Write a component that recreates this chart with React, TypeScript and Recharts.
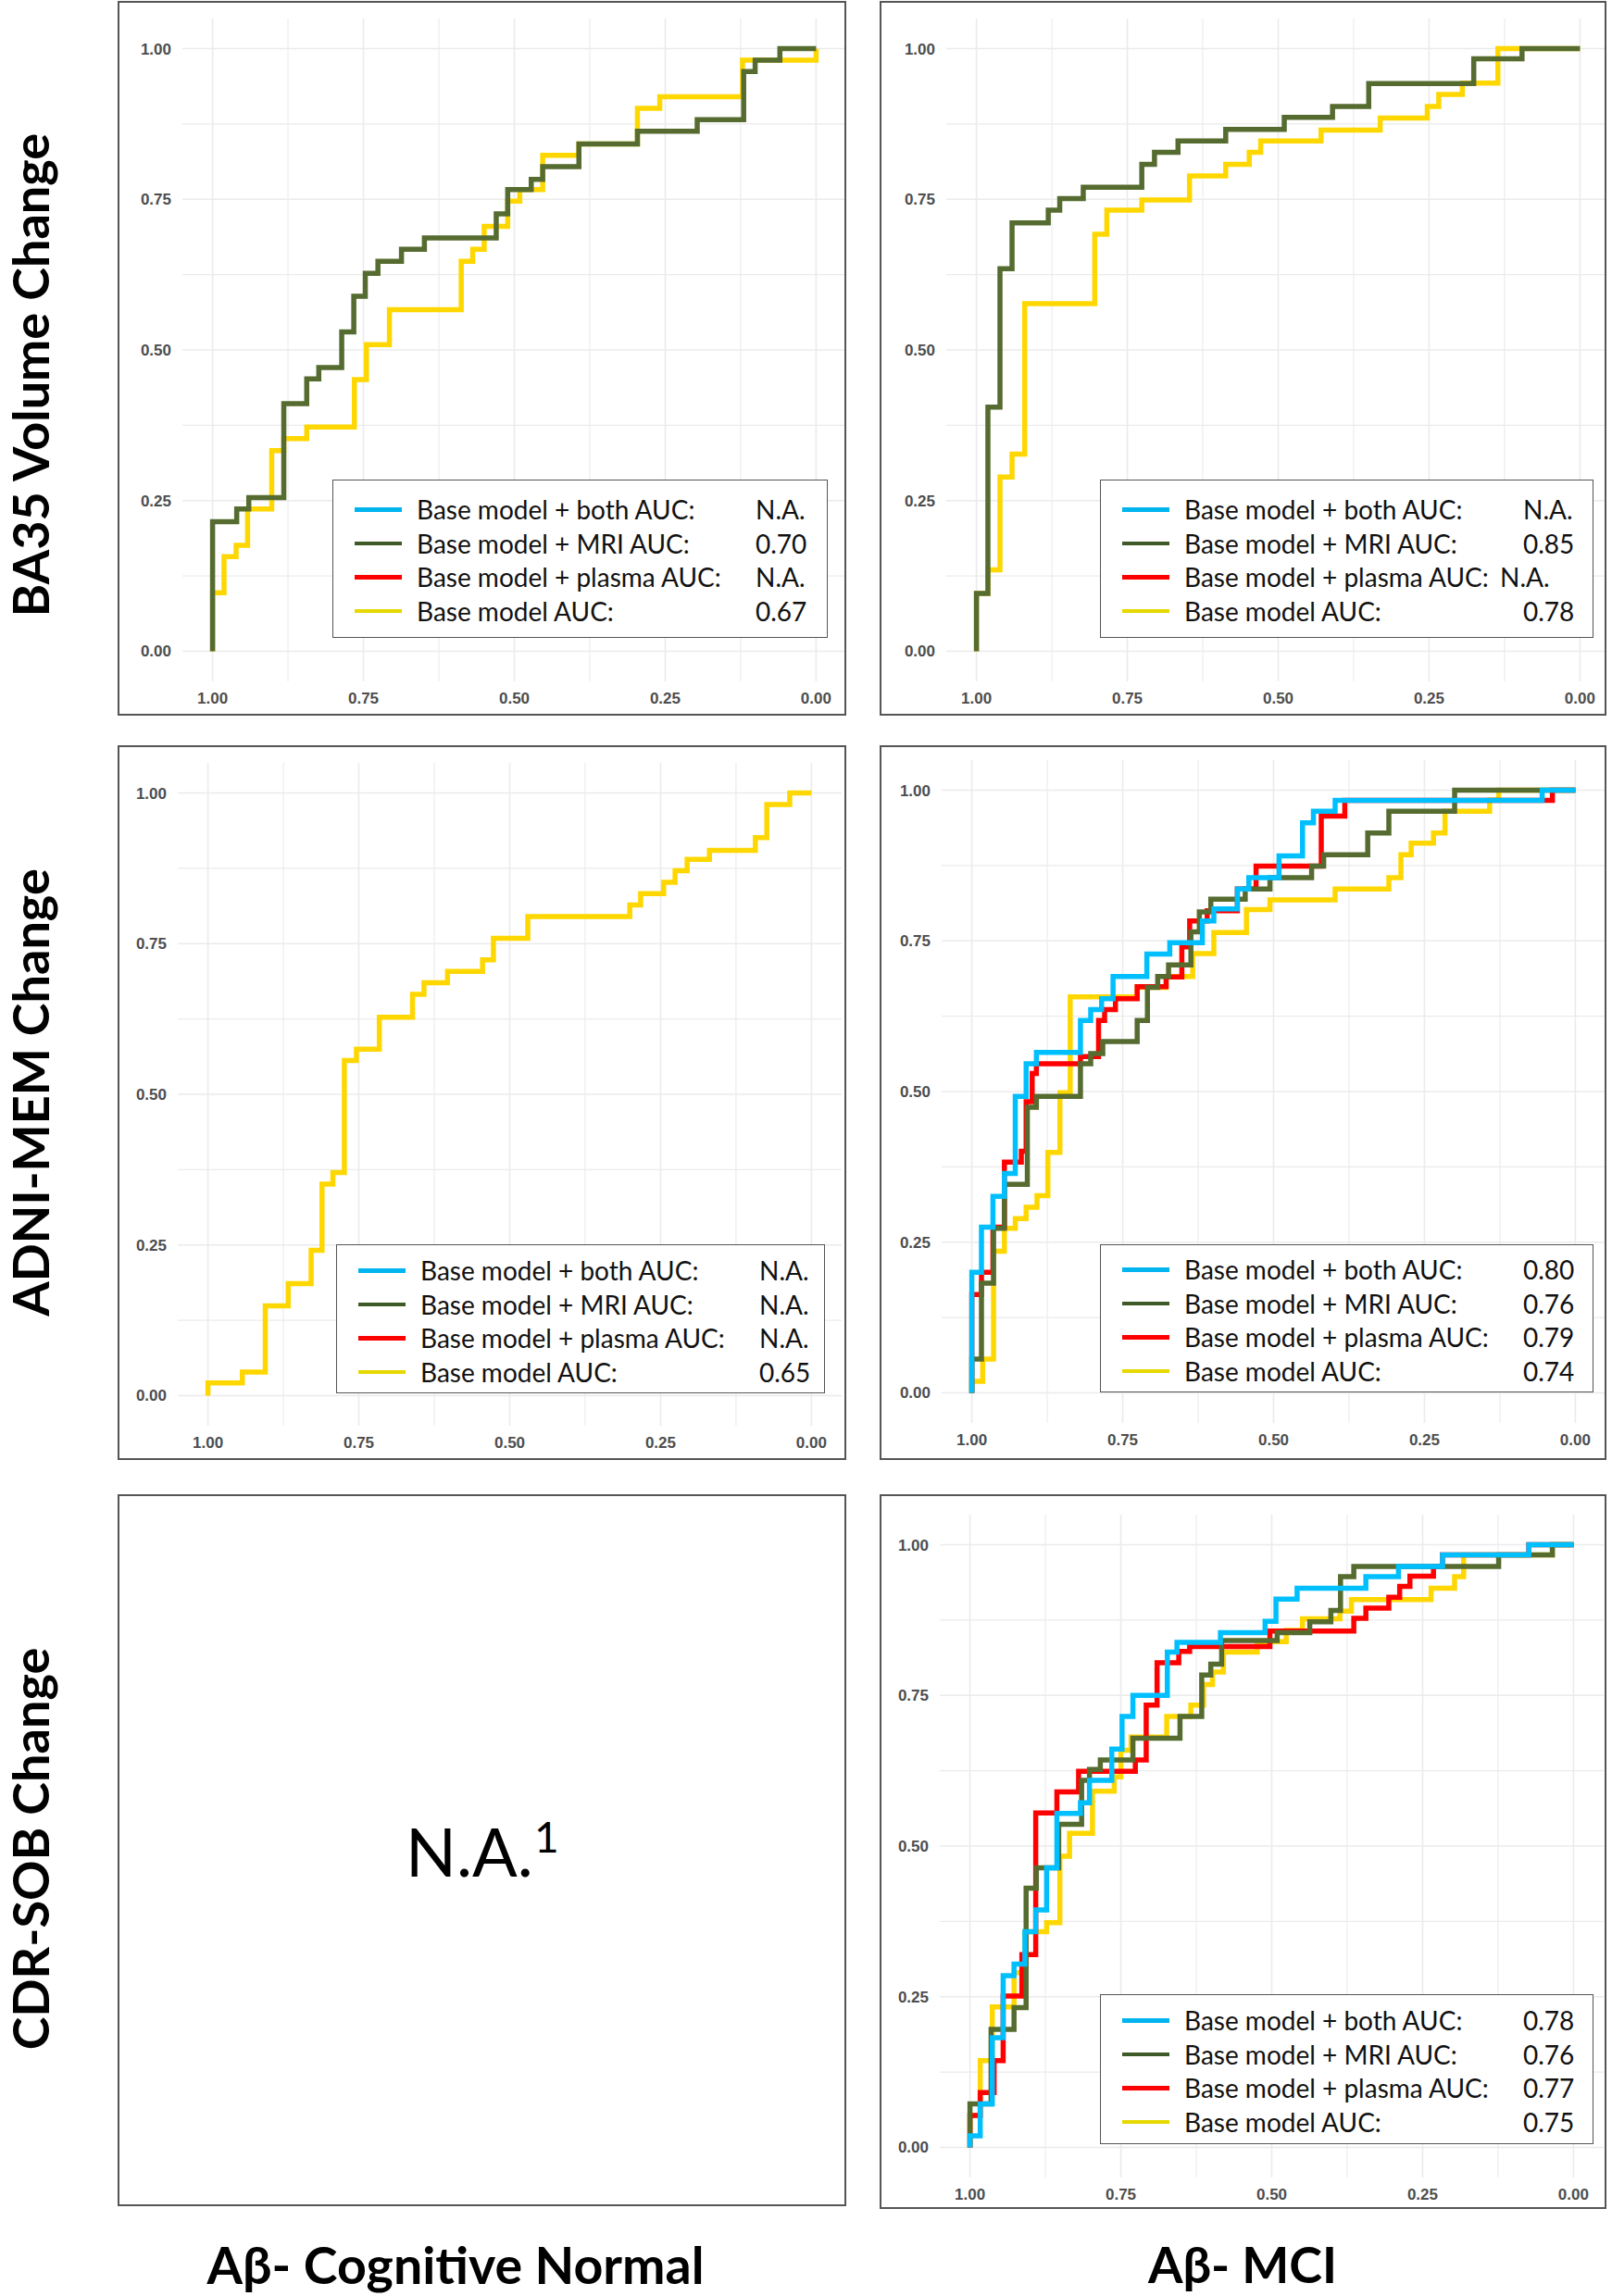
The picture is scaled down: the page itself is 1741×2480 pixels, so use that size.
import React from 'react';
import { LineChart, Line, XAxis, YAxis, ReferenceLine } from 'recharts';

type Pt = [number, number];

// ROC steps as [specificity, sensitivity] (sensitivity after each rise)
const ba35CnMri: Pt[] = [[1, 0], [1, 0.215], [0.96, 0.236], [0.94, 0.255], [0.882, 0.411], [0.844, 0.452], [0.824, 0.471], [0.786, 0.53], [0.766, 0.589], [0.747, 0.627], [0.726, 0.647], [0.687, 0.667], [0.649, 0.686], [0.53, 0.726], [0.511, 0.766], [0.472, 0.783], [0.453, 0.804], [0.393, 0.842], [0.296, 0.863], [0.197, 0.882], [0.12, 0.962], [0.101, 0.981], [0.06, 1], [0, 1]];
const ba35CnBase: Pt[] = [[1, 0], [1, 0.097], [0.981, 0.157], [0.961, 0.176], [0.942, 0.236], [0.902, 0.333], [0.882, 0.353], [0.844, 0.372], [0.765, 0.451], [0.745, 0.509], [0.707, 0.567], [0.588, 0.647], [0.569, 0.667], [0.55, 0.705], [0.511, 0.747], [0.491, 0.766], [0.453, 0.823], [0.393, 0.842], [0.296, 0.901], [0.259, 0.92], [0.122, 0.981], [0, 0.981], [0, 1]];

const ba35MciMri: Pt[] = [[1, 0], [1, 0.096], [0.981, 0.405], [0.961, 0.635], [0.941, 0.711], [0.881, 0.732], [0.862, 0.751], [0.823, 0.77], [0.726, 0.808], [0.705, 0.828], [0.666, 0.847], [0.587, 0.866], [0.49, 0.886], [0.41, 0.904], [0.35, 0.942], [0.176, 0.983], [0.096, 1], [0, 1]];
const ba35MciBase: Pt[] = [[1, 0], [1, 0.096], [0.981, 0.135], [0.961, 0.289], [0.941, 0.327], [0.92, 0.577], [0.804, 0.692], [0.784, 0.732], [0.726, 0.749], [0.647, 0.789], [0.587, 0.808], [0.548, 0.828], [0.529, 0.847], [0.429, 0.865], [0.331, 0.885], [0.253, 0.904], [0.234, 0.924], [0.195, 0.943], [0.136, 1], [0, 1]];

const memCnBase: Pt[] = [[1, 0], [1, 0.021], [0.943, 0.039], [0.905, 0.149], [0.867, 0.186], [0.829, 0.241], [0.811, 0.351], [0.793, 0.37], [0.774, 0.556], [0.754, 0.575], [0.716, 0.628], [0.661, 0.666], [0.642, 0.685], [0.603, 0.704], [0.545, 0.723], [0.527, 0.759], [0.47, 0.795], [0.301, 0.814], [0.283, 0.833], [0.245, 0.852], [0.226, 0.871], [0.206, 0.89], [0.169, 0.905], [0.093, 0.926], [0.074, 0.981], [0.036, 1], [0, 1]];

const memMciBoth: Pt[] = [[1, 0], [1, 0.2], [0.984, 0.275], [0.965, 0.326], [0.946, 0.364], [0.928, 0.492], [0.91, 0.546], [0.893, 0.565], [0.82, 0.618], [0.803, 0.636], [0.785, 0.654], [0.766, 0.691], [0.71, 0.728], [0.672, 0.747], [0.618, 0.783], [0.599, 0.803], [0.56, 0.836], [0.541, 0.855], [0.491, 0.891], [0.452, 0.946], [0.434, 0.965], [0.398, 0.983], [0.055, 1], [0, 1]];
const memMciMri: Pt[] = [[1, 0], [1, 0.056], [0.984, 0.182], [0.964, 0.273], [0.946, 0.346], [0.908, 0.474], [0.893, 0.492], [0.82, 0.546], [0.803, 0.563], [0.783, 0.583], [0.726, 0.618], [0.709, 0.673], [0.692, 0.691], [0.674, 0.71], [0.637, 0.765], [0.623, 0.798], [0.604, 0.819], [0.547, 0.836], [0.506, 0.855], [0.437, 0.874], [0.417, 0.893], [0.344, 0.929], [0.309, 0.965], [0.2, 1], [0, 1]];
const memMciPlasma: Pt[] = [[1, 0], [1, 0.163], [0.984, 0.2], [0.965, 0.275], [0.946, 0.383], [0.918, 0.401], [0.91, 0.483], [0.9, 0.53], [0.893, 0.546], [0.82, 0.558], [0.79, 0.618], [0.78, 0.636], [0.762, 0.654], [0.726, 0.674], [0.678, 0.69], [0.652, 0.74], [0.639, 0.783], [0.61, 0.8], [0.56, 0.836], [0.529, 0.874], [0.421, 0.957], [0.382, 0.983], [0.038, 1], [0, 1]];
const memMciBase: Pt[] = [[1, 0], [1, 0.019], [0.982, 0.056], [0.964, 0.235], [0.946, 0.273], [0.928, 0.289], [0.91, 0.308], [0.892, 0.327], [0.874, 0.399], [0.854, 0.498], [0.837, 0.657], [0.726, 0.673], [0.678, 0.691], [0.634, 0.729], [0.599, 0.764], [0.545, 0.802], [0.506, 0.818], [0.398, 0.836], [0.309, 0.855], [0.289, 0.893], [0.272, 0.912], [0.235, 0.929], [0.216, 0.965], [0.142, 0.984], [0.127, 1], [0, 1]];

const cdrMciBoth: Pt[] = [[1, 0], [1, 0.019], [0.983, 0.072], [0.963, 0.182], [0.945, 0.285], [0.927, 0.304], [0.909, 0.358], [0.891, 0.394], [0.873, 0.464], [0.856, 0.554], [0.817, 0.572], [0.802, 0.609], [0.765, 0.661], [0.748, 0.715], [0.73, 0.75], [0.673, 0.822], [0.657, 0.838], [0.585, 0.854], [0.511, 0.873], [0.493, 0.91], [0.458, 0.928], [0.344, 0.947], [0.29, 0.964], [0.217, 0.983], [0.074, 1], [0, 1]];
const cdrMciMri: Pt[] = [[1, 0], [1, 0.072], [0.965, 0.196], [0.927, 0.232], [0.907, 0.43], [0.89, 0.464], [0.853, 0.536], [0.815, 0.609], [0.802, 0.627], [0.784, 0.643], [0.73, 0.679], [0.652, 0.715], [0.616, 0.784], [0.601, 0.802], [0.583, 0.841], [0.491, 0.854], [0.437, 0.872], [0.402, 0.891], [0.386, 0.947], [0.364, 0.964], [0.124, 0.983], [0.035, 1], [0, 1]];
const cdrMciPlasma: Pt[] = [[1, 0], [1, 0.053], [0.983, 0.091], [0.96, 0.144], [0.945, 0.251], [0.914, 0.32], [0.891, 0.555], [0.856, 0.59], [0.82, 0.624], [0.726, 0.643], [0.708, 0.734], [0.69, 0.804], [0.654, 0.823], [0.636, 0.831], [0.503, 0.857], [0.364, 0.878], [0.344, 0.895], [0.306, 0.913], [0.288, 0.931], [0.271, 0.948], [0.232, 0.964], [0.217, 0.983], [0.074, 1], [0, 1]];
const cdrMciBase: Pt[] = [[1, 0], [1, 0.053], [0.983, 0.144], [0.963, 0.233], [0.927, 0.29], [0.909, 0.358], [0.873, 0.373], [0.851, 0.483], [0.835, 0.521], [0.797, 0.591], [0.761, 0.615], [0.75, 0.659], [0.733, 0.681], [0.674, 0.715], [0.634, 0.734], [0.613, 0.768], [0.598, 0.789], [0.58, 0.822], [0.524, 0.839], [0.476, 0.858], [0.449, 0.877], [0.387, 0.89], [0.368, 0.909], [0.236, 0.928], [0.197, 0.947], [0.182, 0.983], [0.035, 1], [0, 1]];

// legend rows: both, MRI, plasma, base
const seriesNames = ['Base model + both AUC:', 'Base model + MRI AUC:', 'Base model + plasma AUC:', 'Base model AUC:'];
const ba35CnAuc = ['N.A.', '0.70', 'N.A.', '0.67'];
const ba35MciAuc = ['N.A.', '0.85', 'N.A.', '0.78'];
const memCnAuc = ['N.A.', 'N.A.', 'N.A.', '0.65'];
const memMciAuc = ['0.80', '0.76', '0.79', '0.74'];
const cdrMciAuc = ['0.78', '0.76', '0.77', '0.75'];

const axisTicks = [0, 0.25, 0.5, 0.75, 1];
const gridValues = [0, 0.125, 0.25, 0.375, 0.5, 0.625, 0.75, 0.875, 1];

const rowLabels = ['BA35 Volume Change', 'ADNI-MEM Change', 'CDR-SOB Change'];
const colLabels = ['Aβ- Cognitive Normal', 'Aβ- MCI'];

const lineColors = ['#00BFFF', '#556B2F', '#FF0000', '#FFD700'];
const legendColors = ['#00B4F0', '#3E5A26', '#FF0000', '#E6D800'];

const PLOT_W = 717;
const PLOT_H = 716;

const toRows = (pts: Pt[]) => pts.map(([spec, sens]) => ({ spec, sens }));
const fmt = (v: number) => v.toFixed(2);

const tickStyle = { fill: '#4D4D4D', fontSize: 17, fontWeight: 700, fontFamily: '"Liberation Sans", Arial, sans-serif' };

interface LegendBox {
  left: number;
  top: number;
  width: number;
  height: number;
  firstRow: number;
  tightPlasma?: boolean;
}

interface PanelProps {
  left: number;
  top: number;
  width: number;
  height: number;
  padLeft: number;
  padTop: number;
  curves: (Pt[] | null)[];
  auc: string[];
  legend: LegendBox;
}

function RocPanel({ left, top, width, height, padLeft, padTop, curves, auc, legend }: PanelProps) {
  const drawOrder = [3, 2, 1, 0];
  return (
    <div style={{ position: 'absolute', left, top, width, height, overflow: 'hidden', background: '#fff' }}>
      <LineChart
        width={padLeft + PLOT_W + 10}
        height={padTop + PLOT_H + 40}
        margin={{ top: padTop, right: 10, bottom: 0, left: 0 }}
      >
        {gridValues.map((v) => (
          <ReferenceLine key={`gx${v}`} x={v} stroke="#EBEBEB" strokeWidth={v % 0.25 === 0 ? 1.6 : 1.1} />
        ))}
        {gridValues.map((v) => (
          <ReferenceLine key={`gy${v}`} y={v} stroke="#EBEBEB" strokeWidth={v % 0.25 === 0 ? 1.6 : 1.1} />
        ))}
        <XAxis
          type="number"
          dataKey="spec"
          domain={[-0.05, 1.05]}
          reversed
          allowDataOverflow
          ticks={axisTicks}
          interval={0}
          tickFormatter={fmt}
          axisLine={false}
          tickLine={false}
          tickSize={0}
          tickMargin={12}
          height={40}
          tick={tickStyle}
        />
        <YAxis
          type="number"
          dataKey="sens"
          domain={[-0.05, 1.05]}
          allowDataOverflow
          ticks={axisTicks}
          interval={0}
          tickFormatter={fmt}
          axisLine={false}
          tickLine={false}
          tickSize={0}
          tickMargin={12}
          width={padLeft}
          tick={tickStyle}
        />
        {drawOrder.map((i) =>
          curves[i] ? (
            <Line
              key={`s${i}`}
              data={toRows(curves[i] as Pt[])}
              dataKey="sens"
              type="stepAfter"
              stroke={lineColors[i]}
              strokeWidth={5.5}
              dot={false}
              activeDot={false}
              isAnimationActive={false}
            />
          ) : null
        )}
      </LineChart>

      {/* legend pasted over the plot */}
      <div
        style={{
          position: 'absolute',
          left: legend.left,
          top: legend.top,
          width: legend.width,
          height: legend.height,
          boxSizing: 'border-box',
          border: '1.5px solid #555',
          background: '#fff',
          fontFamily: 'Lato, "Open Sans", sans-serif',
          fontSize: 28,
          color: '#111',
        }}
      >
        {seriesNames.map((name, i) => {
          const y = legend.firstRow + i * 36.6;
          const valueLeft = legend.tightPlasma && i === 2 ? 431 : 456;
          return (
            <div key={name} style={{ position: 'absolute', left: 0, top: y - 18, height: 36, width: '100%' }}>
              <div style={{ position: 'absolute', left: 23, top: 16, width: 51, height: 4.5, background: legendColors[i] }} />
              <span style={{ position: 'absolute', left: 90, top: 0, lineHeight: '36px', whiteSpace: 'nowrap' }}>{name}</span>
              <span style={{ position: 'absolute', left: valueLeft, top: 0, lineHeight: '36px', whiteSpace: 'nowrap' }}>{auc[i]}</span>
            </div>
          );
        })}
      </div>

      <div style={{ position: 'absolute', inset: 0, border: '2px solid #555', boxSizing: 'border-box', pointerEvents: 'none' }} />
    </div>
  );
}

const labelFont = 'Lato, "Open Sans", sans-serif';

export default function App() {
  const rowCenters = [405, 1180, 1997];
  const colCenters = [492, 1342];

  return (
    <div style={{ position: 'absolute', left: 0, top: 0, width: 1741, height: 2480, background: '#fff', overflow: 'hidden' }}>
      {rowLabels.map((t, i) => (
        <div
          key={t}
          style={{
            position: 'absolute',
            left: 33,
            top: rowCenters[i],
            transform: 'translate(-50%, -50%) rotate(-90deg)',
            whiteSpace: 'nowrap',
            fontFamily: labelFont,
            fontWeight: 700,
            fontSize: 54,
            lineHeight: 1,
            color: '#000',
          }}
        >
          {t}
        </div>
      ))}
      {colLabels.map((t, i) => (
        <div
          key={t}
          style={{
            position: 'absolute',
            left: colCenters[i],
            top: 2446,
            transform: 'translate(-50%, -50%)',
            whiteSpace: 'nowrap',
            fontFamily: labelFont,
            fontWeight: 700,
            fontSize: i === 0 ? 55.5 : 54,
            lineHeight: 1,
            color: '#000',
          }}
        >
          {t}
        </div>
      ))}

      <RocPanel
        left={127} top={1} width={787} height={772} padLeft={70} padTop={19}
        curves={[null, ba35CnMri, null, ba35CnBase]} auc={ba35CnAuc}
        legend={{ left: 232, top: 517, width: 535, height: 171, firstRow: 31 }}
      />
      <RocPanel
        left={950} top={1} width={785} height={772} padLeft={72} padTop={19}
        curves={[null, ba35MciMri, null, ba35MciBase]} auc={ba35MciAuc}
        legend={{ left: 238, top: 517, width: 533, height: 171, firstRow: 31, tightPlasma: true }}
      />
      <RocPanel
        left={127} top={805} width={787} height={772} padLeft={65} padTop={19}
        curves={[null, null, null, memCnBase]} auc={memCnAuc}
        legend={{ left: 236, top: 539, width: 528, height: 161, firstRow: 27 }}
      />
      <RocPanel
        left={950} top={805} width={785} height={772} padLeft={67} padTop={16}
        curves={[memMciBoth, memMciMri, memMciPlasma, memMciBase]} auc={memMciAuc}
        legend={{ left: 238, top: 539, width: 533, height: 160, firstRow: 26 }}
      />

      {/* empty panel: no CN model for CDR-SOB */}
      <div style={{ position: 'absolute', left: 127, top: 1614, width: 787, height: 769, border: '2px solid #555', boxSizing: 'border-box', background: '#fff' }} />
      <div style={{ position: 'absolute', left: 438, top: 1963, fontFamily: labelFont, fontSize: 72, lineHeight: 1, color: '#000', whiteSpace: 'nowrap' }}>
        N.A.
      </div>
      <div style={{ position: 'absolute', left: 577, top: 1961, fontFamily: labelFont, fontSize: 46, lineHeight: 1, color: '#000' }}>
        1
      </div>

      <RocPanel
        left={950} top={1614} width={785} height={772} padLeft={65} padTop={22}
        curves={[cdrMciBoth, cdrMciMri, cdrMciPlasma, cdrMciBase]} auc={cdrMciAuc}
        legend={{ left: 238, top: 540, width: 533, height: 162, firstRow: 27 }}
      />
    </div>
  );
}
